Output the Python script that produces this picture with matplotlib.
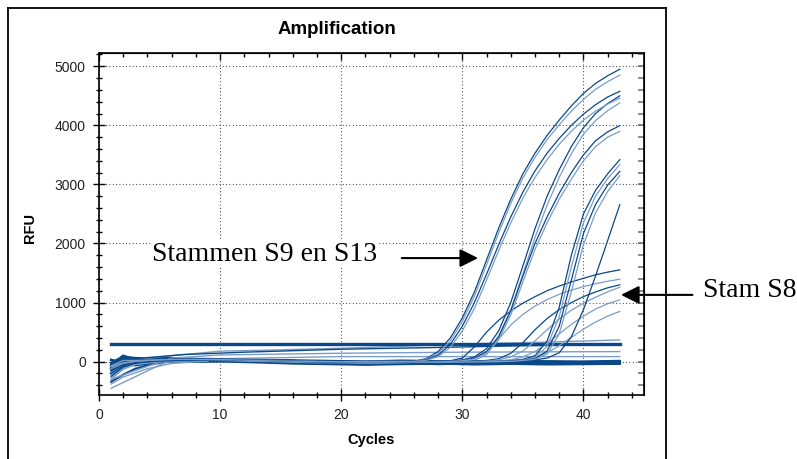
import matplotlib
matplotlib.use("Agg")
import matplotlib.pyplot as plt
from matplotlib.lines import Line2D
from matplotlib.ticker import MultipleLocator

dark = '#0a4889'
light = '#7b9dc5'

# cycles used for the flat start of every amplifying trace
base_cyc = [1, 2, 3, 5, 7, 10, 14, 18, 22]

# S9 / S13 (earliest take-off)
s9a_rfu = [-160, -40, -10, 15, 30, 35, 20, 0, 10,
           5, 50, 170, 400, 740, 1180, 1720, 2260, 2750, 3180, 3530, 3830, 4090, 4330, 4540, 4710, 4840, 4950]
s9b_rfu = [-120, -30, 0, 20, 35, 30, 10, -10, 5,
           0, 40, 140, 350, 680, 1110, 1640, 2180, 2680, 3110, 3460, 3760, 4010, 4240, 4440, 4610, 4740, 4850]
s13a_rfu = [-200, -70, -20, 10, 25, 30, 15, -5, 0,
            0, 30, 110, 290, 600, 1000, 1480, 1980, 2450, 2870, 3230, 3530, 3780, 4000, 4190, 4350, 4480, 4576]
s13b_rfu = [-90, -20, 10, 30, 40, 35, 15, 0, 0,
            5, 20, 85, 240, 520, 900, 1380, 1880, 2350, 2770, 3120, 3420, 3680, 3900, 4090, 4240, 4360, 4460]
early_cyc = base_cyc + list(range(26, 44))

# middle group
c1_rfu = [-250, -90, -30, 5, 20, 25, 10, -15, -5,
          10, 30, 80, 220, 520, 1000, 1620, 2250, 2800, 3250, 3640, 3960, 4200, 4370, 4500]
c2_rfu = [-70, 20, 20, 30, 30, 20, 0, -20, -10,
          5, 20, 60, 170, 430, 880, 1480, 2100, 2650, 3120, 3520, 3850, 4080, 4250, 4380]
d1_rfu = [-150, -50, -10, 20, 30, 40, 20, -5, -10,
          5, 20, 60, 170, 420, 860, 1450, 2000, 2450, 2850, 3200, 3500, 3740, 3890, 3995]
d2_rfu = [-300, -130, -50, 0, 15, 30, 20, 0, -20,
          0, 15, 45, 140, 370, 790, 1350, 1900, 2350, 2750, 3090, 3400, 3640, 3800, 3898]
mid_cyc = base_cyc + list(range(29, 44))

# late steep group
e1_rfu = [-110, -20, 10, 30, 40, 30, 10, -20, -10,
          5, 15, 40, 100, 350, 920, 1800, 2500, 2900, 3180, 3419]
e2_rfu = [-180, -60, -20, 10, 25, 35, 20, -10, -25,
          5, 10, 30, 70, 260, 760, 1600, 2350, 2800, 3100, 3334]
e3_rfu = [-60, 30, 20, 30, 40, 40, 25, 0, -15,
          0, 10, 25, 50, 180, 600, 1380, 2170, 2660, 2990, 3220]
e4_rfu = [-230, -100, -30, 0, 20, 30, 15, -10, -20,
          0, 5, 20, 40, 130, 470, 1180, 1980, 2520, 2880, 3150]
late_cyc = base_cyc + list(range(33, 44))

f1_rfu = [-140, -40, 0, 20, 30, 25, 10, -10, -5,
          0, 10, 30, 60, 150, 420, 880, 1450, 2050, 2656]
f1_cyc = base_cyc + list(range(34, 44))

# Stam S8 (low plateau)
h1_rfu = [-100, -10, 10, 30, 40, 45, 30, 10, 0,
          0, 15, 60, 250, 500, 700, 860, 990, 1100, 1200, 1280, 1350, 1410, 1470, 1515, 1554]
h2_rfu = [-210, -80, -20, 10, 30, 35, 20, 0, -10,
          0, 0, 10, 20, 120, 380, 620, 800, 940, 1050, 1140, 1210, 1270, 1320, 1360, 1396]
h3_rfu = [-40, 40, 30, 35, 40, 30, 15, -10, -20,
          0, 0, 0, 10, 20, 50, 140, 320, 540, 730, 880, 1000, 1100, 1180, 1250, 1300]
h4_rfu = [-270, -120, -40, 0, 20, 25, 10, -5, -15,
          0, 0, 0, 0, 10, 30, 80, 180, 350, 540, 720, 870, 990, 1090, 1180, 1260]
h5_rfu = [-130, -30, 0, 25, 35, 40, 25, 5, -5,
          0, 0, 0, 0, 0, 10, 30, 80, 170, 310, 470, 630, 770, 890, 980, 1046]
h6_rfu = [-180, -60, -10, 15, 30, 30, 15, -5, -10,
          0, 0, 0, 0, 0, 0, 10, 30, 70, 150, 270, 410, 550, 670, 770, 850]
s8_cyc = base_cyc + list(range(28, 44))

# traces that never amplify
thr_cyc = [1, 43]
thr_rfu = [300, 300]
fl1_cyc = [1, 2, 4, 6, 10, 15, 20, 25, 30, 35, 43]
fl1_rfu = [-80, 10, 60, 100, 177, 200, 227, 260, 300, 320, 367]
fl2_cyc = [1, 3, 6, 10, 20, 30, 43]
fl2_rfu = [-300, -150, 60, 113, 142, 160, 170]
fl3_cyc = [1, 5.5, 10, 20, 30, 43]
fl3_rfu = [-451, -10, 50, 85, 85, 85]
fl4_cyc = [1, 3, 7, 12, 20, 28, 35, 43]
fl4_rfu = [-30, 50, 120, 160, 210, 240, 270, 290]
fl5_cyc = [1, 2, 4, 6, 9]
fl5_rfu = [-380, -260, -120, -30, 10]
noise_cyc = [1, 2, 3, 4, 5, 6, 8, 10, 13, 16, 19, 22, 25, 28, 31, 34, 37, 40, 43]
n1_rfu = [-120, 60, 20, 30, 50, 40, 30, 35, 25, 10, -20, -30, -10, -25, -15, -30, -20, -10, -5]
n2_rfu = [-60, 100, 30, 40, 45, 50, 40, 20, 10, -10, -5, -30, -20, -40, -20, -10, -30, -25, -15]
n3_rfu = [30, -20, 10, 25, 35, 30, 25, 30, 20, 5, -15, -10, 0, -20, -35, -15, -5, -20, -10]
n4_rfu = [-340, -220, -120, -60, -20, 0, 10, 15, 5, -10, -25, -45, -30, -15, -20, -40, -25, -10, -20]
n5_rfu = [-200, -90, -40, -10, 10, 20, 25, 20, 0, -15, -35, -20, -10, -30, -10, -20, -35, -15, 0]
n6_rfu = [-20, 80, 60, 50, 60, 55, 45, 40, 30, 20, 10, 0, 15, 5, 0, 10, 5, 0, 10]
n7_rfu = [-100, -40, -60, -30, 0, 10, 0, 5, -10, -30, -40, -50, -40, -30, -45, -35, -45, -40, -35]

traces = [
    (noise_cyc, n1_rfu, dark, 1.8), (noise_cyc, n2_rfu, dark, 1.8), (noise_cyc, n3_rfu, dark, 1.8),
    (noise_cyc, n4_rfu, dark, 1.5), (noise_cyc, n5_rfu, dark, 1.8), (noise_cyc, n6_rfu, dark, 1.8),
    (noise_cyc, n7_rfu, dark, 1.8),
    (fl1_cyc, fl1_rfu, light, 1.0), (fl2_cyc, fl2_rfu, light, 1.0), (fl3_cyc, fl3_rfu, light, 1.0),
    (fl5_cyc, fl5_rfu, light, 1.0), (fl4_cyc, fl4_rfu, dark, 1.0), (thr_cyc, thr_rfu, dark, 2.4),
    (s8_cyc, h1_rfu, dark, 0.9), (s8_cyc, h2_rfu, light, 0.9), (s8_cyc, h3_rfu, dark, 0.9),
    (s8_cyc, h4_rfu, light, 0.9), (s8_cyc, h5_rfu, light, 0.9), (s8_cyc, h6_rfu, light, 0.9),
    (f1_cyc, f1_rfu, dark, 0.9),
    (late_cyc, e1_rfu, dark, 0.9), (late_cyc, e2_rfu, light, 0.9), (late_cyc, e3_rfu, dark, 0.9),
    (late_cyc, e4_rfu, light, 0.9),
    (mid_cyc, c1_rfu, dark, 0.9), (mid_cyc, c2_rfu, light, 0.9), (mid_cyc, d1_rfu, dark, 0.9),
    (mid_cyc, d2_rfu, light, 0.9),
    (early_cyc, s9a_rfu, dark, 0.9), (early_cyc, s9b_rfu, light, 0.9), (early_cyc, s13a_rfu, dark, 0.9),
    (early_cyc, s13b_rfu, light, 0.9),
]

W, H = 797, 459
fig = plt.figure(figsize=(W / 100, H / 100), dpi=100)
ax = fig.add_axes([99 / W, 64 / H, 545 / W, 342 / H])

for cyc, rfu, col, lw in traces:
    ax.plot(cyc, rfu, color=col, lw=lw, solid_joinstyle='round')

ax.set_xlim(0, 45)
ax.set_ylim(-565, 5225)
ax.xaxis.set_major_locator(MultipleLocator(10))
ax.xaxis.set_minor_locator(MultipleLocator(2))
ax.yaxis.set_major_locator(MultipleLocator(1000))
ax.yaxis.set_minor_locator(MultipleLocator(200))
ax.set_axisbelow(True)
ax.grid(True, which='major', linestyle=(0, (0.8, 2.2)), color='#333333', lw=0.8)

ax.tick_params(which='both', direction='inout', top=False, right=False, width=1,
               labelsize=10, labelcolor='#222222')
ax.tick_params(which='major', length=9, pad=5)
ax.tick_params(which='minor', length=4.5)
for lab in ax.get_xticklabels() + ax.get_yticklabels():
    lab.set_family('Liberation Sans')
for s in ax.spines.values():
    s.set_linewidth(1.2)

top = ax.secondary_xaxis('top')
top.xaxis.set_major_locator(MultipleLocator(10))
top.xaxis.set_minor_locator(MultipleLocator(2))
top.tick_params(which='both', direction='in', labeltop=False, width=1)
top.tick_params(which='major', length=5)
top.tick_params(which='minor', length=3)

right = ax.secondary_yaxis('right')
right.yaxis.set_major_locator(MultipleLocator(1000))
right.yaxis.set_minor_locator(MultipleLocator(200))
right.tick_params(which='both', direction='in', labelright=False, width=1.2,
                  color='#777777', length=4.5)

# titles and labels
fig.text(337 / W, 1 - 30 / H, 'Amplification', ha='center', va='center',
         fontsize=13.5, fontweight='bold', family='Liberation Sans')
fig.text(30 / W, 1 - 228 / H, 'RFU', ha='center', va='center', rotation=90,
         fontsize=10.5, fontweight='bold', family='Liberation Sans')
fig.text(371 / W, 1 - 440 / H, 'Cycles', ha='center', va='center',
         fontsize=10.5, fontweight='bold', family='Liberation Sans')

# annotations
arrow = dict(arrowstyle='-|>,head_length=1.1,head_width=0.55', mutation_scale=10,
             lw=1.5, color='black', shrinkA=0, shrinkB=0)
ax.text(4.38, 1712, 'Stammen S9 en S13', family='Liberation Serif', fontsize=20,
        ha='left', va='baseline', zorder=5,
        bbox=dict(facecolor='white', edgecolor='none', pad=0.5))
ax.annotate('', xy=(31.3, 1753), xytext=(25.0, 1753), arrowprops=arrow)
ax.text(49.9, 1095, 'Stam S8', family='Liberation Serif', fontsize=20,
        ha='left', va='baseline', clip_on=False)
ax.annotate('', xy=(43.1, 1130), xytext=(49.0, 1130), arrowprops=arrow,
            annotation_clip=False)

# outer frame of the screenshot
fx0, fx1, fy = 8 / W, 666 / W, 1 - 8 / H
for xs, ys in [([fx0, fx1], [fy, fy]), ([fx0, fx0], [fy, -0.1]), ([fx1, fx1], [fy, -0.1])]:
    fig.add_artist(Line2D(xs, ys, transform=fig.transFigure, color='black', lw=1.3))

fig.savefig('out.png', dpi=100)
